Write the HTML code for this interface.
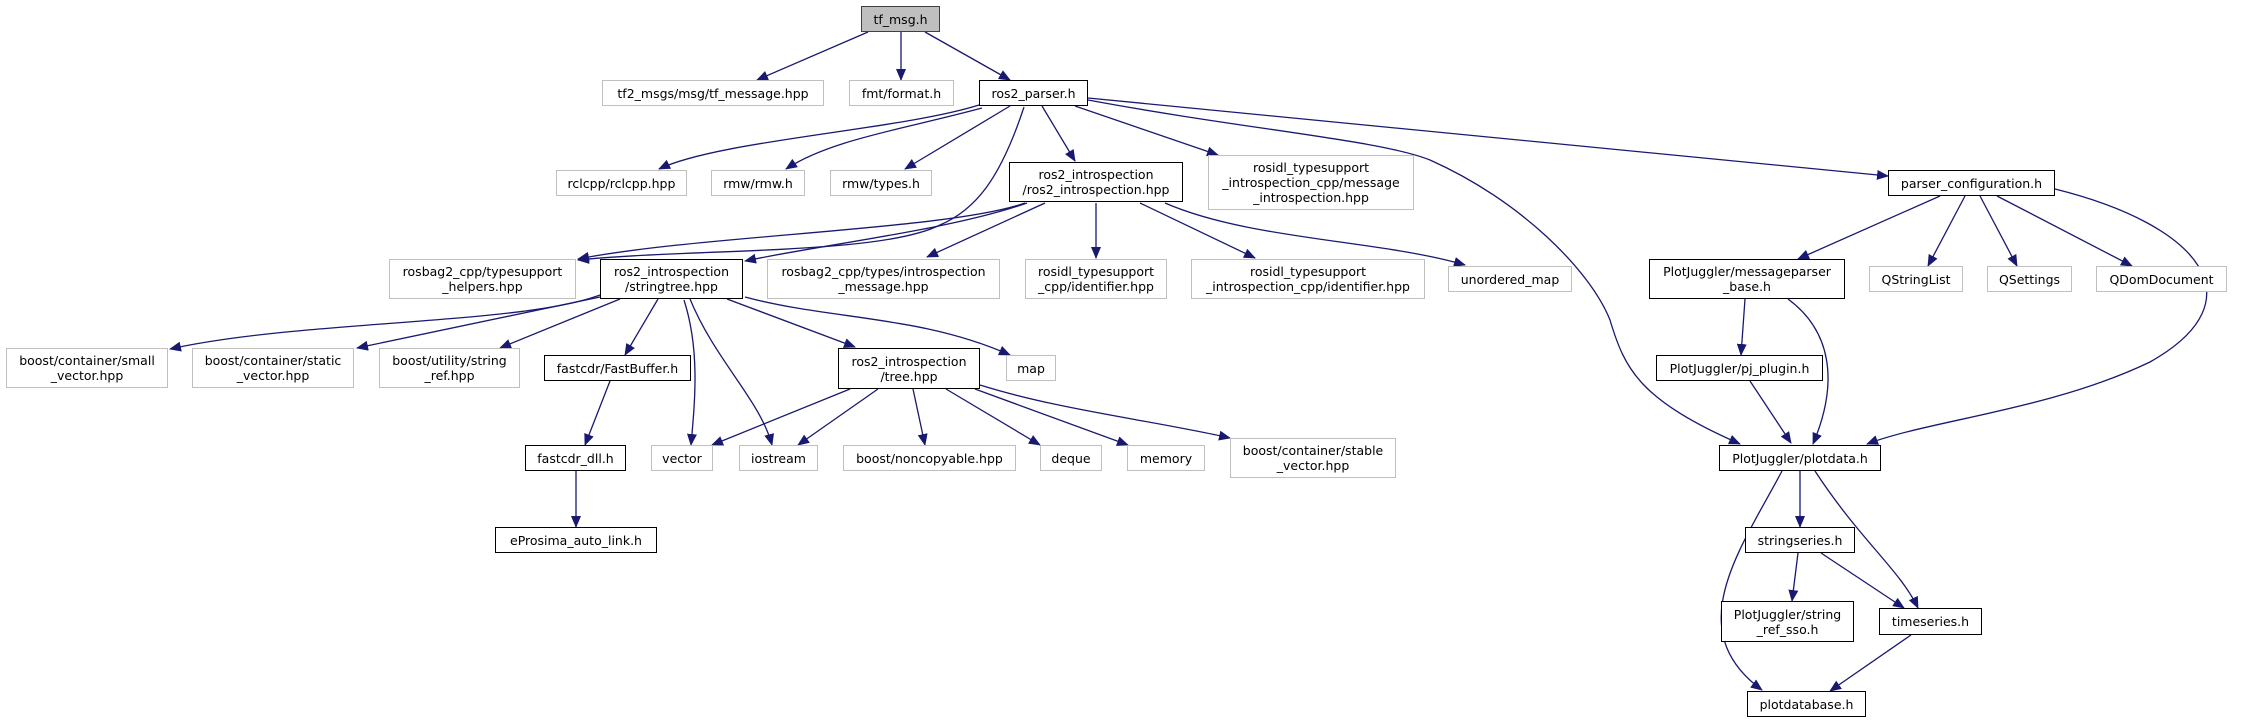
<!DOCTYPE html>
<html><head><meta charset="utf-8"><style>
body{margin:0;background:#fff;width:2255px;height:723px;position:relative;overflow:hidden;font-family:"DejaVu Sans","Liberation Sans",sans-serif;}
.n{position:absolute;box-sizing:border-box;display:flex;align-items:center;justify-content:center;text-align:center;font-size:12.5px;line-height:15px;color:#000;background:#fff;white-space:nowrap;}
.g{border:1.5px solid #bfbfbf;}
.b{border:1.5px solid #000;}
.t{background:#bfbfbf;border:1.5px solid #404040;}
svg{position:absolute;left:0;top:0;}
</style></head><body>
<svg width="2255" height="723" viewBox="0 0 2255 723">
<defs><marker id="a" markerWidth="12" markerHeight="10" refX="11" refY="5" orient="auto" markerUnits="userSpaceOnUse"><path d="M0,0 L12,5 L0,10 z" fill="#191970"/></marker></defs>
<g fill="none" stroke="#191970" stroke-width="1.3" marker-end="url(#a)">
<path d="M868,32 L757,80"/>
<path d="M901,32 L901,80"/>
<path d="M925,32 L1010,80"/>
<path d="M979,105 C900,130 720,140 659,169"/>
<path d="M982,108 C900,130 830,140 786,169"/>
<path d="M1010,106 L905,169"/>
<path d="M1024,107 C1000,180 975,210 940,225 C880,255 700,248 578,260"/>
<path d="M1042,106 L1075,161"/>
<path d="M1075,106 L1218,155"/>
<path d="M1088,100 C1250,130 1380,140 1430,160 C1520,200 1590,270 1610,320 C1625,370 1640,400 1740,444"/>
<path d="M1088,98 L1888,176"/>
<path d="M1025,203 C950,230 700,235 578,259"/>
<path d="M1027,203 C950,230 820,245 745,261"/>
<path d="M1045,203 L927,257"/>
<path d="M1096,203 L1096,258"/>
<path d="M1140,203 L1255,258"/>
<path d="M1165,203 C1250,240 1380,240 1465,265"/>
<path d="M600,295 C520,325 300,320 170,349"/>
<path d="M600,297 L357,348"/>
<path d="M620,299 L500,348"/>
<path d="M658,299 L625,355"/>
<path d="M684,300 C700,350 695,400 691,445"/>
<path d="M690,299 C715,360 760,400 772,445"/>
<path d="M727,299 L855,347"/>
<path d="M745,297 C830,320 920,315 1010,355"/>
<path d="M850,389 L712,445"/>
<path d="M878,389 L798,445"/>
<path d="M913,389 L925,445"/>
<path d="M946,389 L1040,445"/>
<path d="M975,389 L1128,445"/>
<path d="M980,385 C1060,410 1150,420 1230,438"/>
<path d="M610,381 L585,445"/>
<path d="M576,471 L576,527"/>
<path d="M1940,196 L1798,259"/>
<path d="M1965,196 L1928,266"/>
<path d="M1980,196 L2017,266"/>
<path d="M1997,196 L2132,266"/>
<path d="M2055,189 C2200,225 2260,300 2150,362 C2050,410 1930,420 1867,444"/>
<path d="M1745,299 L1741,355"/>
<path d="M1788,299 C1830,330 1840,380 1813,444"/>
<path d="M1750,381 L1791,443"/>
<path d="M1800,471 L1800,527"/>
<path d="M1815,471 C1860,540 1900,570 1918,608"/>
<path d="M1782,471 C1740,550 1680,630 1762,690"/>
<path d="M1798,553 L1792,601"/>
<path d="M1821,553 L1904,608"/>
<path d="M1911,635 L1830,691"/>
</g></svg>

<div class="n t" style="left:861px;top:6px;width:79px;height:26px">tf_msg.h</div>
<div class="n g" style="left:602px;top:80px;width:222px;height:26px">tf2_msgs/msg/tf_message.hpp</div>
<div class="n g" style="left:849px;top:80px;width:105px;height:26px">fmt/format.h</div>
<div class="n b" style="left:979px;top:80px;width:109px;height:26px">ros2_parser.h</div>
<div class="n g" style="left:556px;top:170px;width:131px;height:26px">rclcpp/rclcpp.hpp</div>
<div class="n g" style="left:711px;top:170px;width:94px;height:26px">rmw/rmw.h</div>
<div class="n g" style="left:830px;top:170px;width:102px;height:26px">rmw/types.h</div>
<div class="n b" style="left:1009px;top:162px;width:174px;height:40px">ros2_introspection<br>/ros2_introspection.hpp</div>
<div class="n g" style="left:1208px;top:155px;width:206px;height:55px">rosidl_typesupport<br>_introspection_cpp/message<br>_introspection.hpp</div>
<div class="n b" style="left:1888px;top:170px;width:167px;height:26px">parser_configuration.h</div>
<div class="n g" style="left:389px;top:259px;width:187px;height:40px">rosbag2_cpp/typesupport<br>_helpers.hpp</div>
<div class="n b" style="left:600px;top:259px;width:143px;height:40px">ros2_introspection<br>/stringtree.hpp</div>
<div class="n g" style="left:767px;top:259px;width:233px;height:40px">rosbag2_cpp/types/introspection<br>_message.hpp</div>
<div class="n g" style="left:1025px;top:259px;width:142px;height:40px">rosidl_typesupport<br>_cpp/identifier.hpp</div>
<div class="n g" style="left:1191px;top:259px;width:234px;height:40px">rosidl_typesupport<br>_introspection_cpp/identifier.hpp</div>
<div class="n g" style="left:1448px;top:266px;width:124px;height:26px">unordered_map</div>
<div class="n b" style="left:1649px;top:259px;width:196px;height:40px">PlotJuggler/messageparser<br>_base.h</div>
<div class="n g" style="left:1869px;top:266px;width:94px;height:26px">QStringList</div>
<div class="n g" style="left:1987px;top:266px;width:85px;height:26px">QSettings</div>
<div class="n g" style="left:2096px;top:266px;width:131px;height:26px">QDomDocument</div>
<div class="n g" style="left:6px;top:348px;width:162px;height:40px">boost/container/small<br>_vector.hpp</div>
<div class="n g" style="left:192px;top:348px;width:162px;height:40px">boost/container/static<br>_vector.hpp</div>
<div class="n g" style="left:379px;top:348px;width:141px;height:40px">boost/utility/string<br>_ref.hpp</div>
<div class="n b" style="left:544px;top:355px;width:147px;height:26px">fastcdr/FastBuffer.h</div>
<div class="n b" style="left:838px;top:348px;width:142px;height:41px">ros2_introspection<br>/tree.hpp</div>
<div class="n g" style="left:1006px;top:355px;width:50px;height:26px">map</div>
<div class="n b" style="left:1656px;top:355px;width:167px;height:26px">PlotJuggler/pj_plugin.h</div>
<div class="n b" style="left:525px;top:445px;width:101px;height:26px">fastcdr_dll.h</div>
<div class="n g" style="left:651px;top:445px;width:62px;height:26px">vector</div>
<div class="n g" style="left:739px;top:445px;width:79px;height:26px">iostream</div>
<div class="n g" style="left:843px;top:445px;width:173px;height:26px">boost/noncopyable.hpp</div>
<div class="n g" style="left:1040px;top:445px;width:62px;height:26px">deque</div>
<div class="n g" style="left:1127px;top:445px;width:78px;height:26px">memory</div>
<div class="n g" style="left:1230px;top:438px;width:166px;height:40px">boost/container/stable<br>_vector.hpp</div>
<div class="n b" style="left:1719px;top:445px;width:162px;height:26px">PlotJuggler/plotdata.h</div>
<div class="n b" style="left:495px;top:527px;width:162px;height:26px">eProsima_auto_link.h</div>
<div class="n b" style="left:1745px;top:527px;width:110px;height:26px">stringseries.h</div>
<div class="n b" style="left:1721px;top:601px;width:133px;height:41px">PlotJuggler/string<br>_ref_sso.h</div>
<div class="n b" style="left:1879px;top:608px;width:103px;height:27px">timeseries.h</div>
<div class="n b" style="left:1747px;top:691px;width:119px;height:26px">plotdatabase.h</div>
</body></html>
